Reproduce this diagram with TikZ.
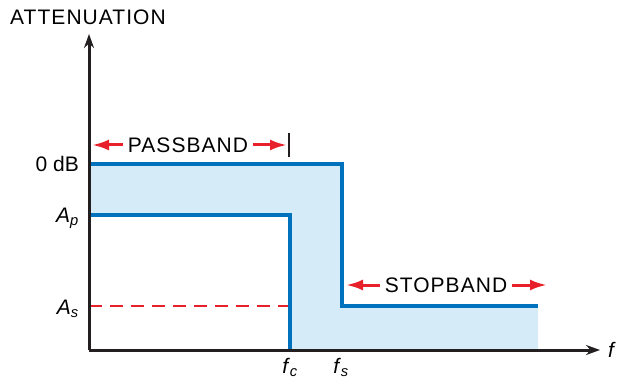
\documentclass[tikz,border=0pt]{standalone}
\usepackage{fontspec}
\setmainfont{Liberation Sans}
\newfontfamily\capsfont[LetterSpace=5]{Liberation Sans}
\usetikzlibrary{arrows.meta}
\definecolor{bandline}{HTML}{0071BC}
\definecolor{bandfill}{HTML}{D5EBF8}
\definecolor{markred}{HTML}{E8202A}
\definecolor{axisblack}{HTML}{231F20}
\tikzset{
  axis/.style={draw=axisblack, line width=3pt, -{Stealth[length=14pt, width=10pt]}},
  band/.style={draw=bandline, line width=4.5pt},
  redarrow/.style={draw=markred, line width=3pt, -{Latex[length=17pt, width=11pt]}},
  label/.style={font=\fontsize{21}{24}\selectfont, inner sep=1pt},
  bandtext/.style={label, font=\fontsize{21}{24}\capsfont, inner sep=5pt},
}
\begin{document}
\begin{tikzpicture}[x=1pt, y=-1pt]
    \useasboundingbox (0,0) rectangle (619,385);
    % key points of the plot
    \coordinate (O) at (89,350);
    \coordinate (top) at (89,164);
    \coordinate (ap) at (89,215);
    \coordinate (as) at (89,306);
    \coordinate (fcb) at (290,350);
    \coordinate (fct) at (290,215);
    \coordinate (fst) at (342,164);
    \coordinate (fsb) at (342,306);
    \coordinate (stopend) at (538,306);
    \coordinate (fillend) at (538,350);
    % shaded band
    \fill[bandfill] (top) -- (fst) -- (fsb) -- (stopend) -- (fillend) -- (fcb) -- (fct) -- (ap) -- cycle;
    \draw[markred, line width=2.5pt, dash pattern=on 13pt off 8pt] (as) -- (288,306);
    \draw[band] (top) -- (fst) -- (fsb) -- (stopend);
    \draw[band] (ap) -- (fct) -- (fcb);
    % axes
    \draw[axis] (O) -- (89,34);
    \draw[axis] (O) -- (600,350);
    \node[label, anchor=west, font=\fontsize{21}{24}\capsfont] (ylab) at (9,17) {ATTENUATION};
    \node[label, anchor=west, font=\fontsize{21}{24}\selectfont\itshape] (xlab) at (607,350) {f};
    \node[label, anchor=east] (l0) at (80,164) {0 dB};
    \node[label, anchor=east] (lap) at (80,218) {\textit{A}\textsubscript{\textit{p}}};
    \node[label, anchor=east] (las) at (80,309) {\textit{A}\textsubscript{\textit{s}}};
    \node[label, anchor=north] (lfc) at (290,357) {\textit{f}\textsubscript{\textit{c}}};
    \node[label, anchor=north] (lfs) at (341,357) {\textit{f}\textsubscript{\textit{s}}};
    % band markers
    \node[bandtext] (pass) at (188,145) {PASSBAND};
    \coordinate (pl) at (92,145);
    \coordinate (pr) at (287,145);
    \draw[redarrow] (pass.west) -- (pl);
    \draw[redarrow] (pass.east) -- (pr);
    \draw[axisblack, line width=2.2pt] (289,133) -- (289,157);
    \node[bandtext] (stop) at (446,285) {STOPBAND};
    \coordinate (sl) at (346,285);
    \coordinate (sr) at (547,285);
    \draw[redarrow] (stop.west) -- (sl);
    \draw[redarrow] (stop.east) -- (sr);
\end{tikzpicture}
\end{document}
